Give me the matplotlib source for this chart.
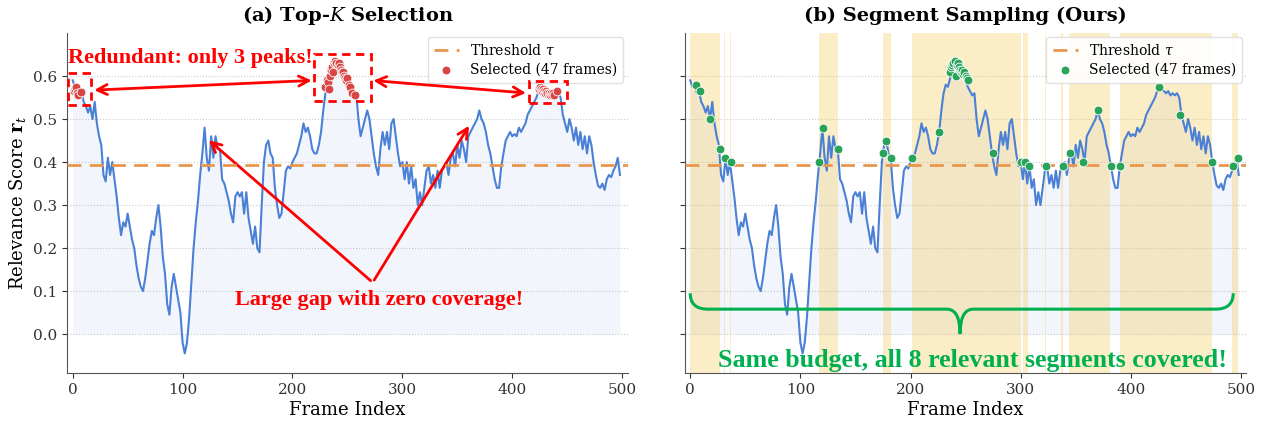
import numpy as np
import matplotlib
matplotlib.use('Agg')
import matplotlib.pyplot as plt
from matplotlib.path import Path
from matplotlib.patches import PathPatch, Rectangle

plt.rcParams['font.family'] = 'DejaVu Serif'
plt.rcParams['mathtext.fontset'] = 'dejavuserif'

# relevance score, read every 2nd frame
frames = np.arange(0, 500, 2)
scores = [
    0.59, 0.575, 0.58, 0.56, 0.565, 0.54, 0.53, 0.515, 0.53, 0.50,
    0.54, 0.49, 0.46, 0.44, 0.37, 0.355, 0.41, 0.37, 0.40, 0.36,
    0.32, 0.27, 0.23, 0.26, 0.25, 0.28, 0.25, 0.22, 0.20, 0.16,
    0.13, 0.11, 0.10, 0.13, 0.17, 0.21, 0.24, 0.23, 0.27, 0.30,
    0.25, 0.18, 0.14, 0.07, 0.045, 0.11, 0.14, 0.11, 0.08, 0.05,
    -0.02, -0.045, -0.02, 0.04, 0.12, 0.20, 0.26, 0.31, 0.37, 0.42,
    0.48, 0.41, 0.38, 0.46, 0.41, 0.46, 0.43, 0.43, 0.36, 0.35,
    0.33, 0.31, 0.28, 0.26, 0.32, 0.33, 0.32, 0.33, 0.28, 0.33,
    0.27, 0.24, 0.21, 0.25, 0.20, 0.19, 0.30, 0.40, 0.44, 0.45,
    0.42, 0.41, 0.34, 0.30, 0.27, 0.28, 0.33, 0.38, 0.39, 0.385,
    0.40, 0.41, 0.42, 0.44, 0.46, 0.49, 0.47, 0.48, 0.46, 0.43,
    0.42, 0.42, 0.44, 0.47, 0.52, 0.56, 0.58, 0.575, 0.595, 0.62,
    0.63, 0.635, 0.62, 0.615, 0.60, 0.59, 0.575, 0.565, 0.555, 0.56,
    0.50, 0.46, 0.48, 0.50, 0.52, 0.50, 0.46, 0.42, 0.39, 0.37,
    0.43, 0.47, 0.44, 0.47, 0.43, 0.49, 0.50, 0.46, 0.42, 0.39,
    0.40, 0.36, 0.40, 0.35, 0.39, 0.34, 0.36, 0.30, 0.33, 0.30,
    0.34, 0.38, 0.39, 0.35, 0.37, 0.34, 0.38, 0.34, 0.38, 0.39,
    0.40, 0.37, 0.41, 0.42, 0.39, 0.44, 0.41, 0.45, 0.43, 0.40,
    0.46, 0.47, 0.48, 0.49, 0.50, 0.52, 0.50, 0.49, 0.47, 0.44,
    0.42, 0.39, 0.36, 0.34, 0.34, 0.39, 0.42, 0.45, 0.46, 0.47,
    0.46, 0.465, 0.46, 0.48, 0.47, 0.48, 0.49, 0.51, 0.52, 0.53,
    0.54, 0.55, 0.565, 0.575, 0.57, 0.565, 0.56, 0.565, 0.555, 0.56,
    0.555, 0.56, 0.55, 0.51, 0.49, 0.47, 0.50, 0.48, 0.45, 0.48,
    0.44, 0.47, 0.43, 0.46, 0.42, 0.46, 0.44, 0.40, 0.37, 0.345,
    0.34, 0.35, 0.335, 0.36, 0.37, 0.365, 0.38, 0.39, 0.41, 0.37,
]
threshold = 0.392

# top-K picks (panel a)
topk_frames = [1, 2, 3, 4, 5, 8,
               230, 231, 232, 233, 234, 235, 236, 237, 238, 239, 240, 241, 242,
               243, 244, 245, 246, 247, 248, 249, 250, 251, 252, 254, 257,
               424, 425, 426, 427, 428, 429, 430, 431, 432, 433, 434, 435, 436,
               437, 438, 441]
topk_scores = [0.565, 0.57, 0.575, 0.56, 0.555, 0.563,
               0.575, 0.59, 0.585, 0.57, 0.60, 0.615, 0.62, 0.61, 0.63, 0.635,
               0.63, 0.625, 0.63, 0.62, 0.615, 0.61, 0.61, 0.60, 0.595, 0.59,
               0.595, 0.58, 0.575, 0.56, 0.555,
               0.57, 0.575, 0.57, 0.565, 0.57, 0.565, 0.56, 0.565, 0.56, 0.56,
               0.555, 0.56, 0.555, 0.56, 0.555, 0.565]

# segment picks (panel b)
seg_frames = [5, 9, 18, 27, 32, 37, 117, 121, 134, 175, 178, 182, 201, 226,
              236, 237, 238, 239, 240, 241, 242, 243, 244, 245, 246, 247, 248,
              249, 250, 251, 252,
              275, 300, 304, 308, 323, 338, 345, 357, 370, 382, 390,
              426, 445, 474, 493, 497]
seg_scores = [0.58, 0.565, 0.50, 0.43, 0.41, 0.40, 0.40, 0.48, 0.43, 0.42,
              0.45, 0.41, 0.41, 0.47,
              0.61, 0.62, 0.625, 0.63, 0.635, 0.60, 0.625, 0.63, 0.62, 0.615,
              0.61, 0.615, 0.605, 0.61, 0.60, 0.595, 0.59,
              0.42, 0.40, 0.40, 0.39, 0.39, 0.39, 0.42, 0.40, 0.52, 0.39, 0.39,
              0.575, 0.51, 0.40, 0.39, 0.41]

seg_start = [0, 31, 36, 117, 175, 201, 302, 322, 337, 344, 390, 492]
seg_end = [27, 32, 37, 134, 182, 300, 307, 323, 338, 381, 474, 497]

line_c = '#4a80d6'
thr_c = '#e8964c'
red = '#d94444'
green = '#2aa35a'

fig = plt.figure(figsize=(12.68, 4.29), dpi=100)
ax1 = fig.add_axes([0.053, 0.131, 0.442, 0.792])
ax2 = fig.add_axes([0.540, 0.131, 0.443, 0.792])


def base(ax, title):
    ax.fill_between(frames, 0, scores, color=line_c, alpha=0.07, lw=0)
    ax.plot(frames, scores, color=line_c, lw=1.5, zorder=3)
    ax.axhline(threshold, color=thr_c, ls=(0, (5, 3)), lw=2, zorder=4,
               label=r'Threshold $\tau$')
    ax.set_xlim(-5, 505)
    ax.set_ylim(-0.09, 0.70)
    ax.set_yticks(np.arange(0, 0.61, 0.1))
    ax.set_xticks([0, 100, 200, 300, 400, 500])
    ax.yaxis.grid(True, ls=':', color='#cccccc', lw=0.8)
    ax.set_axisbelow(True)
    for s in ['top', 'right']:
        ax.spines[s].set_visible(False)
    for s in ['left', 'bottom']:
        ax.spines[s].set_color('#555555')
    ax.tick_params(labelsize=11, colors='#333333')
    ax.set_xlabel('Frame Index', fontsize=13, labelpad=3)
    ax.set_title(title, fontsize=14, fontweight='bold', pad=9)


base(ax1, r'(a) Top-$K$ Selection')
ax1.scatter(topk_frames, topk_scores, s=40, color=red, edgecolor='white',
            lw=0.6, zorder=5, label='Selected (47 frames)')
ax1.set_ylabel(r'Relevance Score $\mathbf{r}_t$', fontsize=13)
leg_kw = dict(loc='upper right', fontsize=10, framealpha=0.9,
              edgecolor='#dddddd', borderpad=0.45, labelspacing=0.35,
              borderaxespad=0.3, handlelength=1.8)
ax1.legend(**leg_kw)

base(ax2, '(b) Segment Sampling (Ours)')
for a, b in zip(seg_start, seg_end):
    ax2.axvspan(a, b, color='#f5c445', alpha=0.3, lw=0, zorder=1)
ax2.scatter(seg_frames, seg_scores, s=40, color=green, edgecolor='white',
            lw=0.6, zorder=5, label='Selected (47 frames)')
ax2.set_yticklabels([])
ax2.legend(**leg_kw)

# panel (a) annotations
ann_font = dict(family='Liberation Serif', fontweight='bold', color='red')
for (x0, x1, y0, y1) in [(-4, 17, 0.533, 0.607), (220, 271, 0.542, 0.651),
                         (415, 450, 0.537, 0.588)]:
    ax1.add_patch(Rectangle((x0, y0), x1 - x0, y1 - y0, fill=False,
                            ec='red', lw=2, ls=(0, (3, 2)), zorder=6))
arr = dict(arrowstyle='<->', color='red', lw=2, mutation_scale=18)
ax1.annotate('', xy=(17, 0.567), xytext=(220, 0.59), arrowprops=arr, zorder=6)
ax1.annotate('', xy=(271, 0.59), xytext=(415, 0.56), arrowprops=arr, zorder=6)
ax1.text(-4, 0.643, 'Redundant: only 3 peaks!', fontsize=16, ha='left',
         va='center', zorder=7, **ann_font)
one = dict(arrowstyle='->', color='red', lw=2, mutation_scale=18)
ax1.annotate('', xy=(122, 0.455), xytext=(273, 0.12), arrowprops=one)
ax1.annotate('', xy=(362, 0.49), xytext=(273, 0.12), arrowprops=one)
ax1.text(279, 0.08, 'Large gap with zero coverage!', fontsize=16,
         ha='center', va='center', **ann_font)

# panel (b) brace
bx0, bx1, bxm = 0, 493, 245
ytop, ymid, ytip = 0.095, 0.058, 0.0
verts = [(bx0, ytop), (bx0, ymid), (bx0 + 16, ymid),
         (bxm - 12, ymid), (bxm, ymid), (bxm, ytip),
         (bxm, ymid), (bxm + 12, ymid),
         (bx1 - 16, ymid), (bx1, ymid), (bx1, ytop)]
codes = [Path.MOVETO, Path.CURVE3, Path.CURVE3,
         Path.LINETO, Path.CURVE3, Path.CURVE3,
         Path.CURVE3, Path.CURVE3,
         Path.LINETO, Path.CURVE3, Path.CURVE3]
ax2.add_patch(PathPatch(Path(verts, codes), fill=False, ec='#00b050', lw=2.2,
                        zorder=6))
ax2.text(256, -0.062, 'Same budget, all 8 relevant segments covered!',
         fontsize=18.7, ha='center', va='center', color='#00b050',
         family='Liberation Serif', fontweight='bold', zorder=7)

fig.savefig('out.png', dpi=100)
